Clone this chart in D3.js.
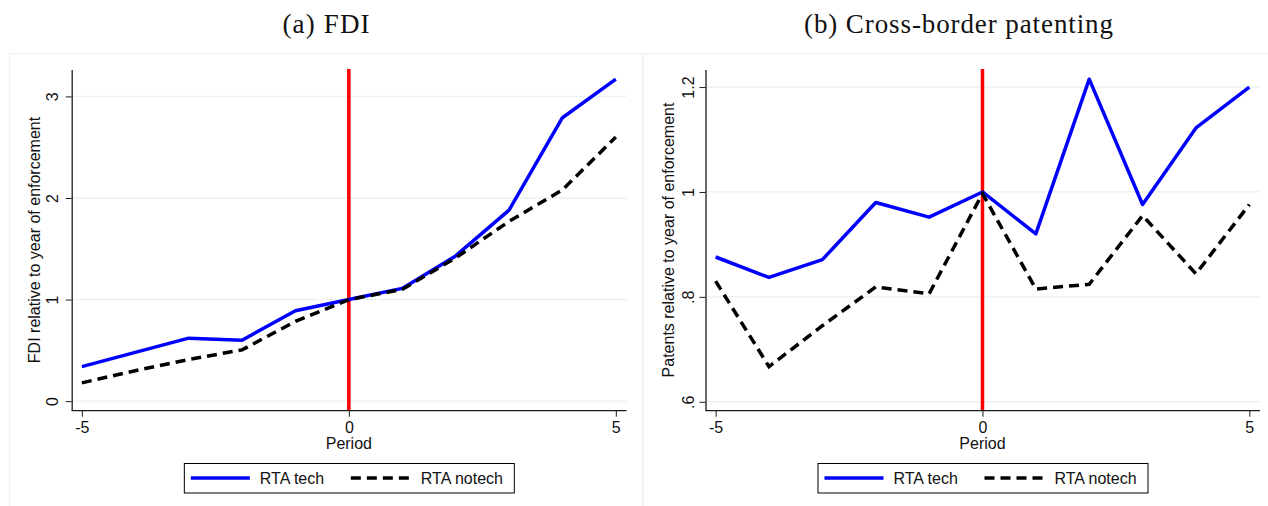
<!DOCTYPE html>
<html>
<head>
<meta charset="utf-8">
<script src="https://cdn.jsdelivr.net/npm/d3@7"></script>
<style>
    body { margin: 0; background: #fff; }
    svg { display: block; }
</style>
</head>
<body>
<svg id="chart" width="1268" height="506"></svg>
<script>
// periods relative to enforcement year
var periods = [-5, -4, -3, -2, -1, 0, 1, 2, 3, 4, 5];

// (a) FDI
var fdiTech   = [0.34, 0.48, 0.62, 0.60, 0.89, 1.00, 1.11, 1.43, 1.88, 2.79, 3.17];
var fdiNotech = [0.18, 0.30, 0.41, 0.505, 0.785, 1.00, 1.10, 1.41, 1.77, 2.08, 2.60];
var fdiTicks = [0, 1, 2, 3];
var fdiTickLabels = ["0", "1", "2", "3"];

// (b) Cross-border patenting
var patTech   = [0.876, 0.837, 0.871, 0.980, 0.952, 1.000, 0.920, 1.215, 0.976, 1.122, 1.200];
var patNotech = [0.830, 0.667, 0.745, 0.819, 0.806, 0.997, 0.815, 0.824, 0.955, 0.844, 0.976];
var patTicks = [0.6, 0.8, 1.0, 1.2];
var patTickLabels = [".6", ".8", "1", "1.2"];

var xTicks = [-5, 0, 5];
var xTickLabels = ["-5", "0", "5"];
var seriesNames = ["RTA tech", "RTA notech"];

var svg = d3.select("#chart");
var GRID = "#e9f1f3", AXIS = "#1a1a1a";

//
// draw_panel:
//   one Stata-style sub graph with its own frame, axes and legend
//
function draw_panel(p) {
    var g = svg.append("g");

    // outer graph region
    g.append("rect")
        .attr("x", p.frame[0] + 0.5).attr("y", 53.5)
        .attr("width", p.frame[1] - p.frame[0]).attr("height", 470)
        .attr("fill", "none").attr("stroke", GRID).attr("stroke-width", 1.2);

    g.append("text")
        .attr("x", p.titleX).attr("y", 33)
        .attr("text-anchor", "middle")
        .attr("font-family", "'Liberation Serif', 'Times New Roman', serif")
        .attr("font-size", 27)
        .attr("textLength", p.titleLen).attr("lengthAdjust", "spacing")
        .attr("fill", "#111")
        .text(p.title);

    var x = d3.scaleLinear().domain([-5.19, 5.2]).range([p.left, p.right]);
    var y = d3.scaleLinear().domain(p.yDomain).range([410.7, 70]);

    // gridlines
    g.selectAll(".grid").data(p.yTicks).enter().append("line")
        .attr("x1", p.left).attr("x2", p.right)
        .attr("y1", function(d) { return y(d); })
        .attr("y2", function(d) { return y(d); })
        .attr("stroke", GRID).attr("stroke-width", 1.3);

    // y axis
    var yAxis = d3.axisLeft(y).tickValues(p.yTicks).tickSize(6).tickPadding(0)
        .tickFormat(function(d, i) { return p.yLabels[i]; });
    var ya = g.append("g").attr("transform", "translate(" + p.left + ",0)").call(yAxis);
    ya.select(".domain").attr("stroke", AXIS).attr("stroke-width", 1.3)
        .attr("d", "M0.5,70V410.7");
    ya.selectAll(".tick line").attr("stroke", AXIS);
    ya.selectAll(".tick text")
        .attr("font-family", "'Liberation Sans', Arial, sans-serif")
        .attr("font-size", 16).attr("fill", "#111")
        .attr("x", null).attr("dy", null)
        .attr("text-anchor", "middle")
        .attr("transform", "translate(" + (-p.yLabGap) + ",0) rotate(-90)");

    // x axis
    var xAxis = d3.axisBottom(x).tickValues(xTicks).tickSize(6).tickPadding(4)
        .tickFormat(function(d, i) { return xTickLabels[i]; });
    var xa = g.append("g").attr("transform", "translate(0,410.7)").call(xAxis);
    xa.select(".domain").attr("stroke", AXIS).attr("stroke-width", 1.3)
        .attr("d", "M" + p.left + ",0H" + p.right);
    xa.selectAll(".tick line").attr("stroke", AXIS);
    xa.selectAll(".tick text")
        .attr("font-family", "'Liberation Sans', Arial, sans-serif")
        .attr("font-size", 16).attr("fill", "#111")
        .attr("y", 22).attr("dy", null);

    // axis titles
    g.append("text")
        .attr("x", x(0)).attr("y", 449)
        .attr("text-anchor", "middle")
        .attr("font-family", "'Liberation Sans', Arial, sans-serif")
        .attr("font-size", 16).attr("fill", "#111")
        .text("Period");
    g.append("text")
        .attr("transform", "translate(" + (p.left - 32) + ",240) rotate(-90)")
        .attr("text-anchor", "middle")
        .attr("font-family", "'Liberation Sans', Arial, sans-serif")
        .attr("font-size", 16).attr("fill", "#111")
        .text(p.yTitle);

    // enforcement year marker
    g.append("line")
        .attr("x1", x(0)).attr("x2", x(0))
        .attr("y1", 69).attr("y2", 410)
        .attr("stroke", "#ff0000").attr("stroke-width", 3.5);

    var line = d3.line()
        .x(function(d, i) { return x(periods[i]); })
        .y(function(d) { return y(d); });

    g.append("path").datum(p.tech)
        .attr("d", line).attr("fill", "none")
        .attr("stroke", "#0000ff").attr("stroke-width", 3.5)
        .attr("stroke-linejoin", "round");
    g.append("path").datum(p.notech)
        .attr("d", line).attr("fill", "none")
        .attr("stroke", "#000").attr("stroke-width", 3.5)
        .attr("stroke-dasharray", "10,6");

    // legend
    var lx = x(0) - 165, ly = 463;
    var lg = g.append("g").attr("transform", "translate(" + lx + "," + ly + ")");
    lg.append("rect").attr("x", 0.5).attr("y", 0.5).attr("width", 330).attr("height", 29.5)
        .attr("fill", "#fff").attr("stroke", "#000").attr("stroke-width", 1);
    lg.append("line").attr("x1", 7).attr("x2", 66).attr("y1", 15).attr("y2", 15)
        .attr("stroke", "#0000ff").attr("stroke-width", 3.5);
    lg.append("line").attr("x1", 167).attr("x2", 226).attr("y1", 15).attr("y2", 15)
        .attr("stroke", "#000").attr("stroke-width", 3.5)
        .attr("stroke-dasharray", "10,6");
    lg.selectAll(".ltxt").data(seriesNames).enter().append("text")
        .attr("x", function(d, i) { return i == 0 ? 76 : 237; })
        .attr("y", 20.5)
        .attr("font-family", "'Liberation Sans', Arial, sans-serif")
        .attr("font-size", 16).attr("fill", "#111")
        .text(function(d) { return d; });
}

draw_panel({
    frame: [9, 642],
    title: "(a) FDI", titleX: 326, titleLen: 87,
    left: 71.7, right: 626.5,
    yDomain: [-0.094, 3.26], yTicks: fdiTicks, yLabels: fdiTickLabels, yLabGap: 14,
    yTitle: "FDI relative to year of enforcement",
    tech: fdiTech, notech: fdiNotech
});
draw_panel({
    frame: [642.5, 1275],
    title: "(b) Cross-border patenting", titleX: 958.5, titleLen: 309,
    left: 705.5, right: 1260,
    yDomain: [0.583, 1.2325], yTicks: patTicks, yLabels: patTickLabels, yLabGap: 12,
    yTitle: "Patents relative to year of enforcement",
    tech: patTech, notech: patNotech
});
</script>
</body>
</html>
